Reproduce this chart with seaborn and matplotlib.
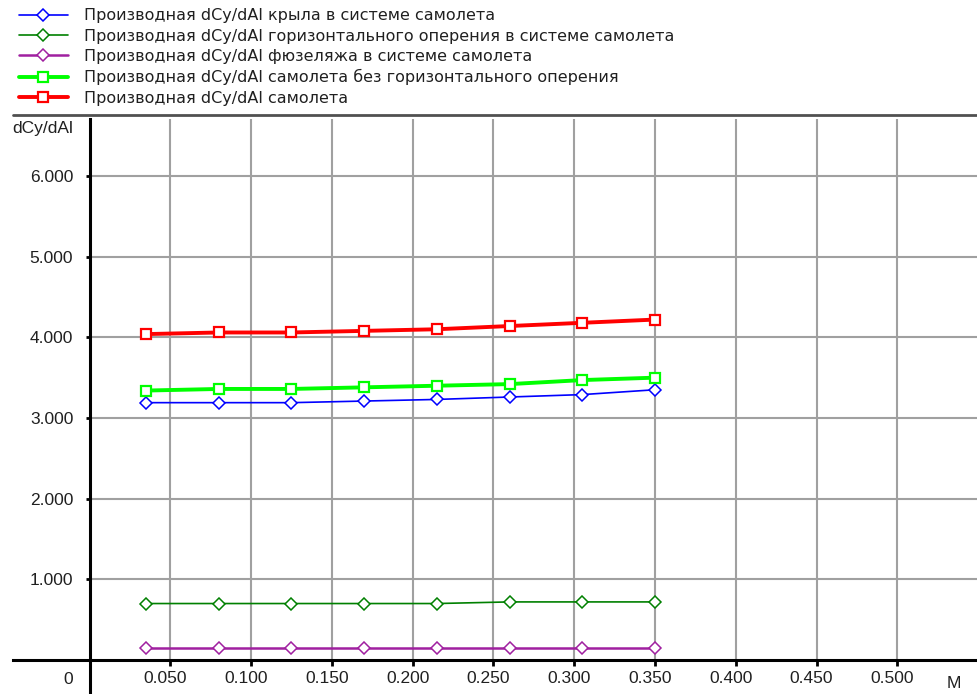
import numpy as np
import pandas as pd
import matplotlib
matplotlib.use("Agg")
import matplotlib.pyplot as plt
from matplotlib.lines import Line2D
from matplotlib.ticker import FixedLocator, FuncFormatter
from matplotlib.transforms import ScaledTranslation
import seaborn as sns

# ---- data ----
mach = [0.035, 0.080, 0.125, 0.170, 0.215, 0.260, 0.305, 0.350]
wing = [3.19, 3.19, 3.19, 3.21, 3.23, 3.26, 3.29, 3.35]
htail = [0.70, 0.70, 0.70, 0.70, 0.70, 0.72, 0.72, 0.72]
fuselage = [0.15, 0.15, 0.15, 0.15, 0.15, 0.15, 0.15, 0.15]
no_htail = [3.34, 3.36, 3.36, 3.38, 3.40, 3.42, 3.47, 3.50]
aircraft = [4.04, 4.06, 4.06, 4.08, 4.10, 4.14, 4.18, 4.22]

labels = [
    "Производная dCy/dAl крыла в системе самолета",
    "Производная dCy/dAl горизонтального оперения в системе самолета",
    "Производная dCy/dAl фюзеляжа в системе самолета",
    "Производная dCy/dAl самолета без горизонтального оперения",
    "Производная dCy/dAl самолета",
]
x_ticks = [0.05, 0.10, 0.15, 0.20, 0.25, 0.30, 0.35, 0.40, 0.45, 0.50]
y_ticks = [1, 2, 3, 4, 5, 6]

sns.set_theme(style="white")
plt.rcParams['font.family'] = ['Liberation Sans', 'DejaVu Sans']

W, H = 977, 694
fig = plt.figure(figsize=(W / 100, H / 100), dpi=100)
ax_left, ax_bottom_px, ax_top_px = 89.5, 660, 119.3
ax = fig.add_axes([ax_left / W, (H - ax_bottom_px) / H,
                   (W - ax_left) / W, (ax_bottom_px - ax_top_px) / H])

styles = [
    (wing, "#0000ff", "D", 1.2, 6.5, 1.1),
    (htail, "#008000", "D", 1.2, 6.5, 1.1),
    (fuselage, "#a020a0", "D", 1.8, 6.5, 1.1),
    (no_htail, "#00ff00", "s", 2.8, 7.5, 1.6),
    (aircraft, "#ff0000", "s", 2.8, 7.5, 1.6),
]
for (vals, col, mk, lw, ms, mew), lab in zip(styles, labels):
    df = pd.DataFrame({"M": mach, "v": vals})
    sns.lineplot(data=df, x="M", y="v", ax=ax, color=col, lw=lw, marker=mk,
                 markersize=ms, markerfacecolor="white", markeredgecolor=col,
                 markeredgewidth=mew, label=lab, legend=False, zorder=3)

xmax = (W - ax_left) / 1615.6
ymax = (ax_bottom_px - ax_top_px) / 80.67
ax.set_xlim(0, xmax)
ax.set_ylim(0, ymax)

ax.xaxis.set_major_locator(FixedLocator(x_ticks))
ax.yaxis.set_major_locator(FixedLocator(y_ticks))
ax.xaxis.set_major_formatter(FuncFormatter(lambda v, p: f"{v:.3f}"))
ax.yaxis.set_major_formatter(FuncFormatter(lambda v, p: f"{v:.3f}"))
ax.grid(True, color="#a0a0a0", lw=1.5)
ax.set_axisbelow(True)
ax.set_xlabel("")
ax.set_ylabel("")

for s in ["top", "right"]:
    ax.spines[s].set_visible(False)
ax.spines["left"].set_color("black")
ax.spines["left"].set_linewidth(2.2)
ax.spines["bottom"].set_color("black")
ax.spines["bottom"].set_linewidth(2.2)
ax.spines["left"].set_bounds(-(H - ax_bottom_px) / 80.67, ymax)
ax.spines["bottom"].set_bounds(-(ax_left - 13) / 1615.6, xmax)

ax.tick_params(axis="x", direction="out", length=4, width=2, pad=4,
               labelsize=12.5, colors="black", bottom=True)
ax.tick_params(axis="y", direction="out", length=3, width=2, pad=8.7,
               labelsize=12.5, colors="black", left=True)
shift = ScaledTranslation(-5 / 100, 0, fig.dpi_scale_trans)
for t in ax.get_xticklabels():
    t.set_transform(t.get_transform() + shift)
for t in ax.get_xticklabels() + ax.get_yticklabels():
    t.set_color("#202020")

# axis annotations
fig.text(73 / W, 1 - 128 / H, "dCy/dAl", ha="right", va="center",
         fontsize=12.5, color="#202020")
fig.text(68 / W, 1 - 679 / H, "0", ha="center", va="center",
         fontsize=12.5, color="#202020")
fig.text(954 / W, 1 - 683 / H, "M", ha="center", va="center",
         fontsize=12.5, color="#202020")

# separator line above plot
fig.add_artist(Line2D([13 / W, 1], [1 - 114.7 / H] * 2, color="#505050", lw=2))

handles, labs = ax.get_legend_handles_labels()
fig.legend(handles, labs, loc="upper left", bbox_to_anchor=(19 / W, 1 - 8.3 / H),
           frameon=False, prop={"family": ["DejaVu Sans"], "size": 11.5},
           handlelength=3.06, handletextpad=1.04,
           labelspacing=0.33, borderpad=0, borderaxespad=0, numpoints=1,
           labelcolor="#202020")

fig.savefig("out.png", dpi=100)
